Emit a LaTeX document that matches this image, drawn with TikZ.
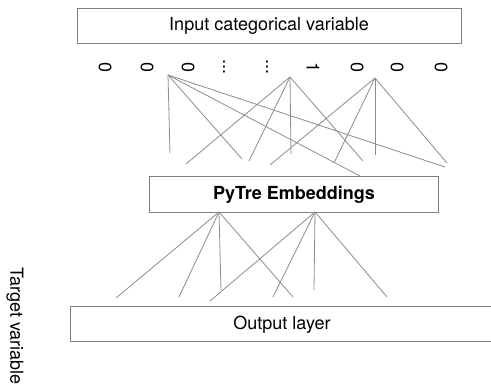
\documentclass[tikz,border=0pt]{standalone}
\usepackage{fontspec}
\setmainfont{TeX Gyre Heros}
\begin{document}
\begin{tikzpicture}[x=1pt,y=-1pt,
  box/.style={draw=black!50,line width=0.8pt},
  lbl/.style={font=\fontsize{18}{20}\selectfont,inner sep=0pt},
  digit/.style={font=\fontsize{18}{20}\selectfont,inner sep=0pt,rotate=-90},
  link/.style={draw=black!45,line width=0.8pt}]
\useasboundingbox (0,0) rectangle (491,385);
\clip (0,0) rectangle (491,385);
% boxes
\draw[box] (77,8) rectangle (461,43);
\node[lbl] (inp) at (269,26) {Input categorical variable};
\draw[box] (149,176) rectangle (438,212);
\node[lbl,font=\fontsize{18}{20}\selectfont\bfseries] (emb) at (294,195) {PyTre Embeddings};
\draw[box] (70,306) rectangle (500,341);
\node[lbl] (out) at (282,325) {Output layer};
\node[lbl,rotate=-90,anchor=west] (tgt) at (15,267) {Target variable};
% digits
\node[digit] (d1) at (105,68) {0};
\node[digit] (d2) at (147,68) {0};
\node[digit] (d3) at (188,68) {0};
\node[digit] (d4) at (224,67) {...};
\node[digit] (d5) at (267,67) {...};
\node[digit] (d6) at (313,68) {1};
\node[digit] (d7) at (357,68) {0};
\node[digit] (d8) at (397,68) {0};
\node[digit] (d9) at (441,68) {0};
% source points
\coordinate (sa) at (168,75);
\coordinate (sb) at (290,77);
\coordinate (sc) at (375,78);
\coordinate (sd) at (219,212);
\coordinate (se) at (315,212);
% free ends, first layer
\coordinate (a1) at (170,153);
\coordinate (a2) at (242,159);
\coordinate (a3) at (360,176);
\coordinate (a4) at (445,167);
\coordinate (b1) at (186,164);
\coordinate (b2) at (249,161);
\coordinate (b3) at (291,154);
\coordinate (b4) at (363,161);
\coordinate (c1) at (270,165);
\coordinate (c2) at (334,163);
\coordinate (c3) at (375,155);
\coordinate (c4) at (447,163);
% free ends, second layer
\coordinate (e1) at (116,298);
\coordinate (e2) at (179,297);
\coordinate (e3) at (221,290);
\coordinate (e4) at (293,297);
\coordinate (f1) at (210,301);
\coordinate (f2) at (273,297);
\coordinate (f3) at (314,290);
\coordinate (f4) at (387,297);
\foreach \s/\p in {sa/a,sb/b,sc/c,sd/e,se/f}{
  \foreach \i in {1,2,3,4}{
    \draw[link] (\s) -- (\p\i);
  }
}
\end{tikzpicture}
\end{document}
